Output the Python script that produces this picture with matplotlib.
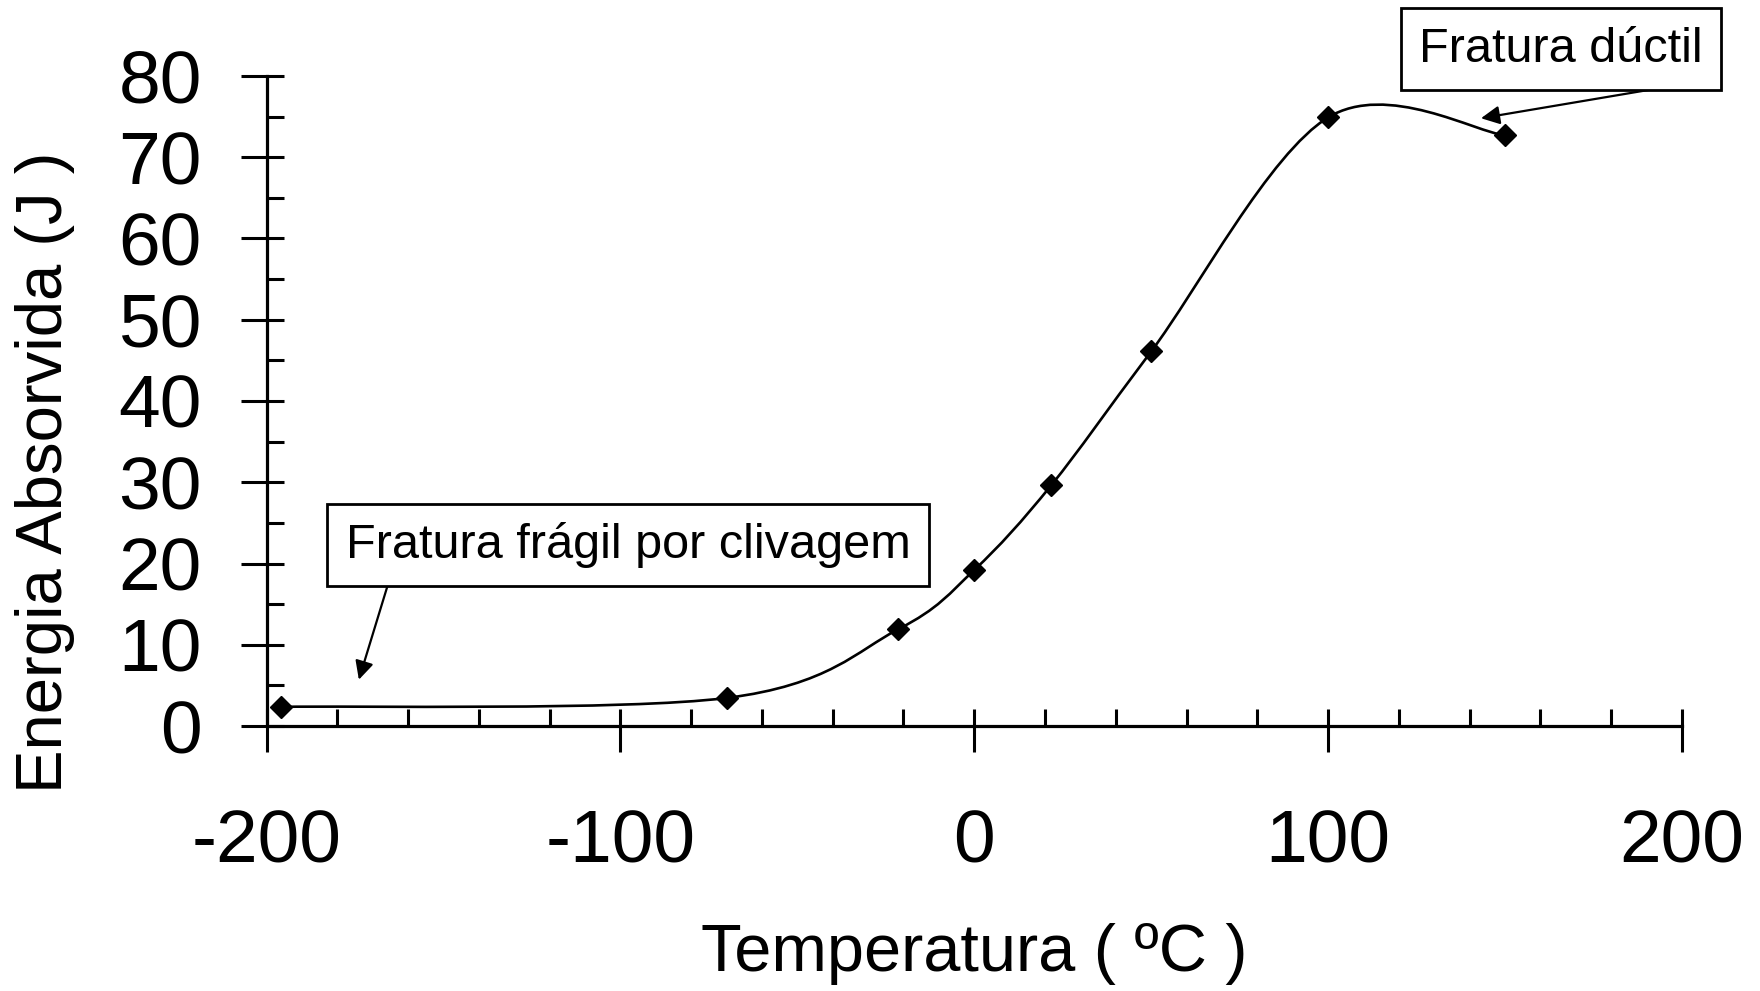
import numpy as np
from matplotlib import pyplot as plt
from matplotlib.path import Path
from matplotlib.patches import PathPatch

plt.rcParams['font.family'] = ['Liberation Sans', 'DejaVu Sans']

# Charpy test: temperature (C) vs absorbed energy (J)
temperatura = [-196, -70, -21.5, 0, 21.7, 50, 100, 150]
energia = [2.35, 3.45, 11.9, 19.2, 29.6, 46.1, 74.9, 72.7]

x_ticks = [-200, -100, 0, 100, 200]
y_ticks = [0, 10, 20, 30, 40, 50, 60, 70, 80]

label_fragil = "Fratura frágil por clivagem"
label_ductil = "Fratura dúctil"
tip_fragil = (-173.9, 5.7)
tip_ductil = (143.2, 74.8)


def smooth_path(x, y):
    '''
    Bezier curve through the points, like the "smoothed line" of a spreadsheet
    (Catmull-Rom control points, ends repeated)
    '''
    pts = np.column_stack([x, y]).astype(float)
    n = len(pts)
    verts = [pts[0]]
    codes = [Path.MOVETO]
    for i in range(n - 1):
        p0 = pts[i - 1] if i > 0 else pts[i]
        p1 = pts[i]
        p2 = pts[i + 1]
        p3 = pts[i + 2] if i + 2 < n else pts[i + 1]
        c1 = p1 + (p2 - p0) / 6
        c2 = p2 - (p3 - p1) / 6
        verts += [c1, c2, p2]
        codes += [Path.CURVE4] * 3
    return Path(verts, codes)


W, H = 1760, 991
fig = plt.figure(figsize=(W / 100, H / 100), dpi=100)
x0, x1, y0, y1 = 266.5, 1682, 76, 726
ax = fig.add_axes([x0 / W, 1 - y1 / H, (x1 - x0) / W, (y1 - y0) / H])

curve = PathPatch(smooth_path(temperatura, energia), fill=False,
                  edgecolor='black', lw=1.9, capstyle='round', joinstyle='round')
ax.add_patch(curve)
ax.plot(temperatura, energia, ls='none', marker='D', ms=11.5,
        color='black', clip_on=False, zorder=3)

ax.set_xlim(-200, 200)
ax.set_ylim(0, 80)

ax.xaxis.remove_overlapping_locs = False
ax.yaxis.remove_overlapping_locs = False
ax.set_xticks(x_ticks)
ax.set_xticks(np.arange(-200, 201, 20), minor=True)
ax.set_yticks(y_ticks)
ax.set_yticks(np.arange(0, 81, 5), minor=True)
ax.set_xticklabels([str(v) for v in x_ticks])

ax.tick_params(which='major', direction='out', length=18.5, width=2.2,
               labelsize=54, color='black')
ax.tick_params(which='minor', direction='in', length=12, width=2.2,
               color='black')
ax.tick_params(axis='x', which='major', pad=41)
ax.tick_params(axis='y', which='major', pad=28)

for side in ['top', 'right']:
    ax.spines[side].set_visible(False)
for side in ['left', 'bottom']:
    ax.spines[side].set_linewidth(2.3)

# axis titles
ax.set_xlabel("Temperatura ( ºC )", fontsize=48)
ax.xaxis.set_label_coords(0.5, -(954 - y1) / (y1 - y0))
ax.xaxis.label.set_verticalalignment('center')
ax.set_ylabel("Energia Absorvida (J )", fontsize=47)
ax.yaxis.set_label_coords(-(x0 - 45) / (x1 - x0), (y1 - 472) / (y1 - y0))
ax.yaxis.label.set_verticalalignment('center')

# arrows from the bottom edge of each box to the curve
arrow = dict(arrowstyle='-|>', color='black', lw=1.6, mutation_scale=28,
             shrinkA=0, shrinkB=0)
ax.annotate('', xy=tip_fragil, xycoords='data',
            xytext=(389, H - 581), textcoords='figure pixels', arrowprops=arrow)
ax.annotate('', xy=tip_ductil, xycoords='data',
            xytext=(1672, H - 86), textcoords='figure pixels', arrowprops=arrow)

# text boxes
box = dict(boxstyle='square,pad=0.38', fc='white', ec='black', lw=2)
fig.text(628 / W, 1 - 545 / H, label_fragil, ha='center', va='center',
         fontsize=35, bbox=box, zorder=5)
fig.text(1561 / W, 1 - 49 / H, label_ductil, ha='center', va='center',
         fontsize=35, bbox=box, zorder=5)

plt.savefig('out.png', dpi=100)
